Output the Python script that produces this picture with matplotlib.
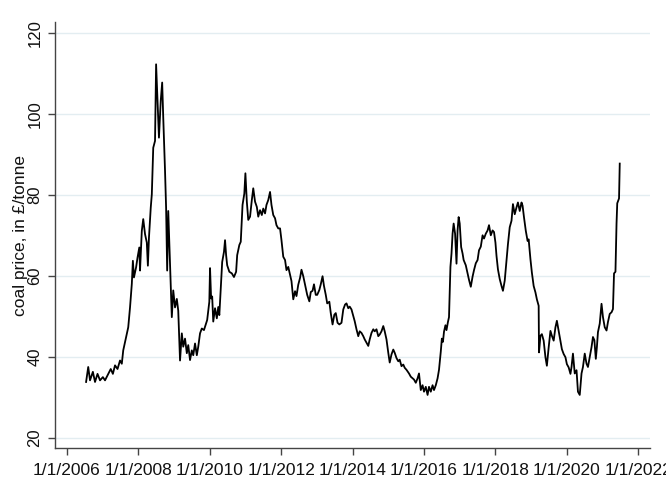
import matplotlib
matplotlib.use("Agg")
import matplotlib.pyplot as plt

# ---------------------------------------------------------------------------
# Data (decimal year, £/tonne)
# ---------------------------------------------------------------------------

years = [
    2006.54, 2006.60, 2006.65, 2006.73, 2006.79, 2006.86, 2006.93, 2007.01, 2007.07, 2007.16,
    2007.23, 2007.29, 2007.35, 2007.42, 2007.49, 2007.54, 2007.58, 2007.66, 2007.72, 2007.77,
    2007.82, 2007.85, 2007.88, 2007.94, 2007.98, 2008.03, 2008.05, 2008.10, 2008.14, 2008.19,
    2008.24, 2008.27, 2008.30, 2008.35, 2008.38, 2008.42, 2008.47, 2008.50, 2008.53, 2008.58,
    2008.63, 2008.67, 2008.70, 2008.75, 2008.78, 2008.81, 2008.84, 2008.89, 2008.94, 2008.98,
    2009.03, 2009.08, 2009.12, 2009.17, 2009.22, 2009.26, 2009.31, 2009.36, 2009.40, 2009.45,
    2009.50, 2009.54, 2009.59, 2009.64, 2009.68, 2009.73, 2009.78, 2009.84, 2009.90, 2009.93,
    2009.99, 2010.01, 2010.04, 2010.07, 2010.10, 2010.15, 2010.20, 2010.24, 2010.27, 2010.31,
    2010.35, 2010.40, 2010.43, 2010.46, 2010.49, 2010.55, 2010.62, 2010.68, 2010.74, 2010.77,
    2010.83, 2010.87, 2010.90, 2010.92, 2010.97, 2011.00, 2011.04, 2011.08, 2011.13, 2011.18,
    2011.22, 2011.27, 2011.32, 2011.36, 2011.41, 2011.46, 2011.50, 2011.55, 2011.59, 2011.64,
    2011.69, 2011.73, 2011.78, 2011.83, 2011.87, 2011.92, 2011.97, 2012.01, 2012.06, 2012.11,
    2012.15, 2012.20, 2012.25, 2012.29, 2012.34, 2012.39, 2012.43, 2012.48, 2012.53, 2012.57,
    2012.62, 2012.67, 2012.73, 2012.79, 2012.83, 2012.88, 2012.92, 2012.97, 2013.01, 2013.07,
    2013.11, 2013.16, 2013.20, 2013.25, 2013.29, 2013.35, 2013.39, 2013.44, 2013.49, 2013.53,
    2013.58, 2013.63, 2013.69, 2013.74, 2013.79, 2013.83, 2013.88, 2013.92, 2013.97, 2014.02,
    2014.06, 2014.11, 2014.16, 2014.20, 2014.25, 2014.30, 2014.34, 2014.39, 2014.44, 2014.48,
    2014.53, 2014.58, 2014.62, 2014.67, 2014.72, 2014.76, 2014.81, 2014.86, 2014.90, 2014.95,
    2015.00, 2015.04, 2015.09, 2015.14, 2015.18, 2015.23, 2015.28, 2015.32, 2015.37, 2015.42,
    2015.46, 2015.51, 2015.58, 2015.63, 2015.68, 2015.72, 2015.77, 2015.82, 2015.86, 2015.91,
    2015.96, 2016.00, 2016.05, 2016.10, 2016.14, 2016.19, 2016.24, 2016.28, 2016.33, 2016.38,
    2016.42, 2016.47, 2016.50, 2016.53, 2016.56, 2016.60, 2016.63, 2016.67, 2016.70, 2016.74,
    2016.77, 2016.80, 2016.83, 2016.87, 2016.91, 2016.94, 2016.97, 2017.00, 2017.04, 2017.08,
    2017.11, 2017.17, 2017.22, 2017.26, 2017.31, 2017.36, 2017.40, 2017.45, 2017.50, 2017.54,
    2017.59, 2017.64, 2017.68, 2017.73, 2017.78, 2017.82, 2017.87, 2017.92, 2017.96, 2018.00,
    2018.03, 2018.07, 2018.12, 2018.17, 2018.21, 2018.26, 2018.31, 2018.35, 2018.40, 2018.45,
    2018.49, 2018.54, 2018.59, 2018.63, 2018.68, 2018.73, 2018.76, 2018.80, 2018.85, 2018.90,
    2018.93, 2018.98, 2019.02, 2019.07, 2019.12, 2019.16, 2019.21, 2019.22, 2019.26, 2019.30,
    2019.35, 2019.40, 2019.44, 2019.49, 2019.54, 2019.58, 2019.63, 2019.68, 2019.72, 2019.77,
    2019.82, 2019.86, 2019.91, 2019.96, 2020.00, 2020.05, 2020.10, 2020.13, 2020.17, 2020.22,
    2020.27, 2020.31, 2020.36, 2020.41, 2020.45, 2020.50, 2020.55, 2020.59, 2020.64, 2020.69,
    2020.73, 2020.77, 2020.81, 2020.84, 2020.87, 2020.92, 2020.97, 2021.01, 2021.06, 2021.11,
    2021.15, 2021.20, 2021.25, 2021.29, 2021.32, 2021.36, 2021.39, 2021.41, 2021.46, 2021.48,
]

price = [
    33.8, 37.5, 34.2, 36.3, 33.8, 35.8, 34.2, 35.0, 34.2, 35.8,
    37.0, 35.8, 37.9, 37.0, 39.1, 38.3, 41.6, 44.9, 47.3, 52.2,
    58.0, 63.7, 59.6, 62.1, 64.5, 67.0, 61.3, 71.1, 74.0, 70.3,
    68.2, 62.5, 69.4, 76.8, 80.1, 91.6, 93.3, 112.2, 105.6, 94.1,
    103.2, 107.7, 99.1, 85.9, 76.8, 61.3, 76.0, 62.9, 49.8, 56.4,
    52.2, 54.3, 51.4, 39.1, 45.8, 42.5, 44.5, 40.9, 42.9, 39.2,
    41.6, 40.4, 43.3, 40.4, 42.5, 45.8, 47.0, 46.6, 48.3, 49.1,
    53.6, 61.9, 54.4, 54.9, 48.7, 52.0, 49.5, 52.3, 50.3, 56.8,
    63.4, 65.9, 68.8, 65.1, 62.6, 61.0, 60.6, 59.7, 61.0, 65.1,
    67.6, 68.4, 74.2, 77.5, 80.3, 85.3, 78.3, 73.8, 74.6, 78.7,
    81.6, 78.3, 77.0, 74.6, 76.2, 75.0, 76.6, 75.4, 77.5, 78.7,
    80.7, 77.5, 75.0, 74.2, 72.5, 71.7, 71.7, 68.8, 64.7, 63.9,
    61.4, 62.2, 60.2, 58.7, 54.2, 56.2, 55.0, 57.8, 59.5, 61.5,
    59.9, 57.8, 55.3, 53.7, 56.0, 56.3, 57.9, 55.3, 55.3, 56.5,
    57.9, 59.9, 57.5, 55.3, 53.2, 53.6, 50.8, 48.0, 50.4, 50.8,
    48.4, 48.0, 48.4, 51.7, 52.9, 53.2, 52.0, 52.4, 51.7, 50.1,
    48.8, 46.8, 45.1, 46.3, 45.9, 45.1, 44.3, 43.5, 42.7, 44.3,
    45.9, 46.8, 46.3, 46.8, 45.1, 45.5, 46.3, 47.6, 46.3, 44.3,
    41.0, 38.6, 40.6, 41.8, 41.0, 39.7, 38.9, 39.3, 37.7, 38.1,
    37.3, 36.8, 35.9, 35.1, 34.7, 34.4, 33.6, 34.7, 35.9, 31.8,
    33.0, 31.4, 32.6, 30.6, 32.6, 31.4, 33.0, 31.8, 33.0, 34.7,
    36.8, 41.3, 44.5, 43.7, 46.2, 47.8, 46.6, 48.6, 49.8, 62.2,
    65.5, 70.4, 72.9, 70.4, 63.0, 71.2, 74.5, 72.9, 67.1, 65.5,
    63.9, 62.6, 60.6, 59.0, 57.3, 59.8, 61.4, 63.1, 63.9, 66.3,
    67.2, 70.0, 69.2, 70.4, 71.2, 72.5, 70.0, 71.2, 70.8, 68.2,
    64.9, 61.6, 59.2, 57.5, 56.3, 58.8, 63.7, 67.8, 72.0, 73.6,
    77.7, 75.2, 76.9, 78.1, 76.0, 78.1, 77.3, 74.4, 71.1, 68.6,
    69.0, 64.1, 60.8, 57.5, 55.9, 54.2, 52.6, 41.1, 45.2, 45.6,
    44.0, 39.9, 37.8, 42.3, 46.4, 45.2, 44.0, 47.3, 48.9, 46.4,
    44.0, 41.9, 40.7, 39.9, 38.2, 37.4, 35.8, 37.5, 40.8, 35.9,
    36.7, 31.4, 30.6, 35.9, 37.5, 40.8, 38.3, 37.5, 39.9, 42.4,
    44.9, 44.1, 39.5, 42.4, 46.1, 48.2, 53.1, 49.8, 47.3, 46.5,
    48.6, 50.6, 51.0, 51.8, 60.6, 61.0, 72.9, 77.9, 79.1, 87.7,
]

x_ticks = [2006, 2008, 2010, 2012, 2014, 2016, 2018, 2020, 2022]
x_labels = ["1/1/2006", "1/1/2008", "1/1/2010", "1/1/2012", "1/1/2014",
            "1/1/2016", "1/1/2018", "1/1/2020", "1/1/2022"]
y_ticks = [20, 40, 60, 80, 100, 120]

# ---------------------------------------------------------------------------
# Plot
# ---------------------------------------------------------------------------

plt.rcParams["font.family"] = ["Liberation Sans", "DejaVu Sans"]

fig = plt.figure(figsize=(6.66, 4.79), dpi=100)
ax = fig.add_axes([0.0826, 0.0647, 0.893, 0.889])

ax.plot(years, price, color="black", linewidth=1.3)

ax.set_xlim(2005.67, 2022.32)
ax.set_ylim(17.5, 122.6)

ax.set_xticks(x_ticks)
ax.set_xticklabels(x_labels, fontsize=12.5)
ax.set_yticks(y_ticks)
ax.set_yticklabels([str(v) for v in y_ticks], fontsize=12, rotation=90, va="center")

ax.grid(axis="y", color="#e3edf1", linewidth=1.0)
ax.set_axisbelow(True)

for side in ["top", "right"]:
    ax.spines[side].set_visible(False)
for side in ["left", "bottom"]:
    ax.spines[side].set_color("#444444")
    ax.spines[side].set_linewidth(1.0)

ax.tick_params(axis="both", direction="out", length=5, width=1.0,
               color="#444444", labelcolor="#111111")
ax.tick_params(axis="x", pad=6)
ax.tick_params(axis="y", pad=4)

ax.set_ylabel("coal price, in £/tonne", fontsize=12.5, color="#111111", labelpad=0)

fig.savefig("out.png", dpi=100)
